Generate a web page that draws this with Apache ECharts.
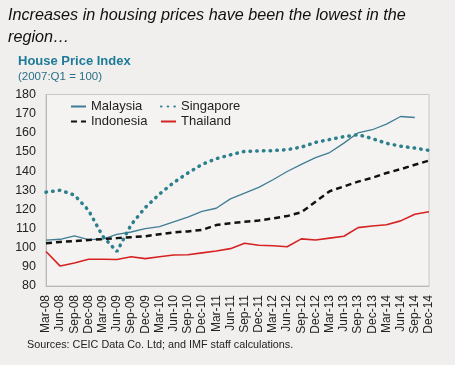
<!DOCTYPE html>
<html><head><meta charset="utf-8">
<script src="https://cdn.jsdelivr.net/npm/echarts@6/dist/echarts.min.js"></script>
<style>html,body{margin:0;padding:0;background:#f0efed;}#c{width:455px;height:365px;}</style>
</head><body><div id="c"></div>
<script>
var categories = ['Mar-08','Jun-08','Sep-08','Dec-08','Mar-09','Jun-09','Sep-09','Dec-09','Mar-10','Jun-10','Sep-10','Dec-10','Mar-11','Jun-11','Sep-11','Dec-11','Mar-12','Jun-12','Sep-12','Dec-12','Mar-13','Jun-13','Sep-13','Dec-13','Mar-14','Jun-14','Sep-14','Dec-14'];
var malaysia = [104,104.4,106.2,104.2,104.5,107,108.2,110,111,113.5,116,119,120.6,125.5,128.5,131.5,135.5,139.8,143.5,147,149.7,154.6,160,161.6,164.5,168.5,168,null];
var singapore = [129,130,127.5,119.5,106,98,112,121,128,134,139,143.5,146.5,148.5,150.3,150.5,150.7,151.2,152.5,155,156.5,158,159,157,154.5,153,152,150.8];
var indonesia = [102.3,103,103.5,104,104.5,105,105.5,106,107,108,108.5,109.3,111.8,112.8,113.5,114.2,115.3,116.5,118.5,124,129.5,132,134.5,136.5,139,141,143.3,145.5];
var thailand = [98,90.4,92,94,94,93.8,95.3,94.3,95.3,96.2,96.3,97.3,98.3,99.5,102.3,101.3,101,100.5,104.6,104,105,106,110.5,111.3,112,114,117.5,118.8];
var yTicks = {min:80, max:180, interval:10};
var titleLine1 = 'Increases in housing prices have been the lowest in the';
var titleLine2 = 'region\u2026';
var subTitle = 'House Price Index';
var subNote = '(2007:Q1 = 100)';
var source = 'Sources: CEIC Data Co. Ltd; and IMF staff calculations.';

var chart = echarts.init(document.getElementById('c'), null, {renderer:'canvas'});
var FONT = 'Liberation Sans';
function leg(name, left, top){
  return {show:true, data:[name], left:left, top:top, itemWidth:15, itemHeight:10, itemGap:0,
    itemStyle:{opacity:0, borderWidth:0}, inactiveColor:'#ccc',
    textStyle:{fontFamily:FONT, fontSize:13, color:'#222'}, padding:0, selectedMode:false};
}
chart.setOption({
  backgroundColor:'#f0efed',
  animation:false,
  graphic:[
    {type:'text', left:8, top:7, style:{text:titleLine1, font:'italic 16.2px "Liberation Sans"', fill:'#111'}},
    {type:'text', left:8, top:29, style:{text:titleLine2, font:'italic 16.2px "Liberation Sans"', fill:'#111'}},
    {type:'text', left:18, top:55, style:{text:subTitle, font:'bold 13px "Liberation Sans"', fill:'#1d7b97'}},
    {type:'text', left:18, top:71, style:{text:subNote, font:'11.5px "Liberation Sans"', fill:'#2a6f88'}},
    {type:'text', left:27, top:340, style:{text:source, font:'10.8px "Liberation Sans"', fill:'#222'}}
  ],
  legend:[leg('Malaysia',70,100), leg('Singapore',160,100), leg('Indonesia',70,115), leg('Thailand',160,115)],
  grid:{left:46, right:26, top:94.5, bottom:79, show:true, borderColor:'#c8c8c8', borderWidth:1, backgroundColor:'#f4f3f1'},
  xAxis:{type:'category', data:categories, boundaryGap:false,
    axisLine:{show:true, lineStyle:{color:'#b8b8b8'}}, axisTick:{show:false},
    axisLabel:{rotate:90, interval:0, fontFamily:FONT, fontSize:12, color:'#222', margin:9}},
  yAxis:{type:'value', min:yTicks.min, max:yTicks.max, interval:yTicks.interval,
    axisLine:{show:true, lineStyle:{color:'#b8b8b8'}}, axisTick:{show:false}, splitLine:{show:false},
    axisLabel:{fontFamily:FONT, fontSize:12.5, color:'#222', margin:10}},
  series:[
    {name:'Malaysia', type:'line', data:malaysia, symbol:'none', lineStyle:{color:'#3f7d95', width:1.3}, itemStyle:{color:'#3f7d95'}},
    {name:'Singapore', type:'line', data:singapore, symbol:'none', lineStyle:{color:'#2c7f8c', width:3.5, type:[0.5,6.2], cap:'round'}, itemStyle:{color:'#2c7f8c'}},
    {name:'Indonesia', type:'line', data:indonesia, symbol:'none', lineStyle:{color:'#111', width:2.5, type:[6,4]}, itemStyle:{color:'#111'}},
    {name:'Thailand', type:'line', data:thailand, symbol:'none', lineStyle:{color:'#d62222', width:1.6}, itemStyle:{color:'#d62222'}}
  ]
});
</script></body></html>
